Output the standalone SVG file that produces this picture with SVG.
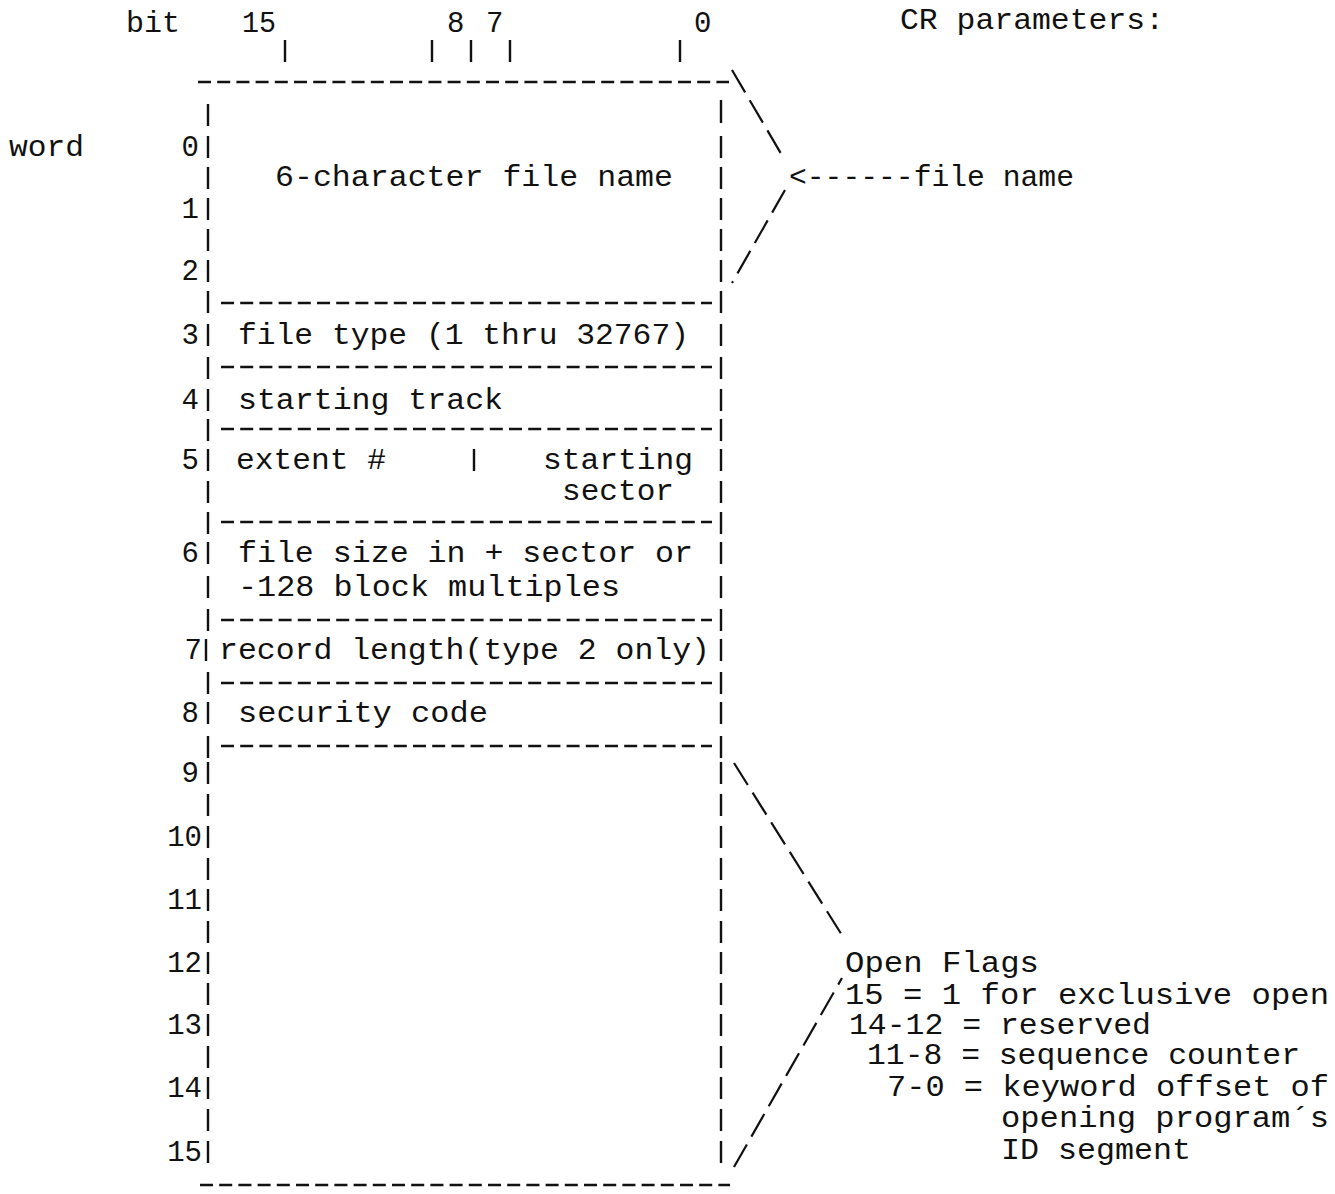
<svg xmlns="http://www.w3.org/2000/svg" width="1335" height="1194" viewBox="0 0 1335 1194">
<style>
text{font-family:"Liberation Mono","DejaVu Sans Mono",monospace;font-size:29px;fill:#111;}
.num{text-anchor:end;}
.bar{stroke:#111;stroke-width:2.4;fill:none;}
.hd{stroke:#111;stroke-width:2.4;fill:none;stroke-dasharray:13 6.2;}
.br{stroke:#111;stroke-width:2.2;fill:none;stroke-dasharray:26 9;}
</style>
<rect width="1335" height="1194" fill="#fff"/>
<g id="header">
<text x="126" y="32" textLength="54" lengthAdjust="spacingAndGlyphs">bit</text>
<text x="242" y="32" textLength="34" lengthAdjust="spacingAndGlyphs">15</text>
<text x="447" y="32">8</text>
<text x="486" y="32">7</text>
<text x="694" y="32">0</text>
<text x="900" y="29" textLength="264" lengthAdjust="spacingAndGlyphs">CR parameters:</text>
<text x="9" y="156" textLength="75" lengthAdjust="spacingAndGlyphs">word</text>
<path class="bar" d="M285 40V62M432 40V62M471 40V62M510 40V62M680 40V62"/>
</g>
<g id="word-numbers">
<text class="num" x="199" y="156">0</text>
<text class="num" x="199" y="218">1</text>
<text class="num" x="199" y="280">2</text>
<text class="num" x="199" y="344">3</text>
<text class="num" x="199" y="409">4</text>
<text class="num" x="199" y="469">5</text>
<text class="num" x="199" y="562">6</text>
<text class="num" x="202" y="659">7</text>
<text class="num" x="199" y="722">8</text>
<text class="num" x="199" y="782">9</text>
<text class="num" x="202" y="846">10</text>
<text class="num" x="202" y="909">11</text>
<text class="num" x="202" y="972">12</text>
<text class="num" x="202" y="1034">13</text>
<text class="num" x="202" y="1097">14</text>
<text class="num" x="202" y="1161">15</text>
</g>
<g id="record-box">
<line class="hd" x1="198" y1="82" x2="729" y2="82"/>
<path id="left-edge" class="bar" d="M208 104V126M208 136V158M208 167V189M208 198V220M208 229V251M208 260V282M208 291V313M208 324V346M208 357V379M208 389V411M208 419V441M208 449V471M208 481V503M208 512V534M208 542V564M208 576V598M208 609V631M206 639V661M208 672V694M208 702V724M208 736V758M208 762V784M208 794V816M208 826V848M208 858V880M208 889V911M208 921V943M208 952V974M208 983V1005M208 1014V1036M208 1046V1068M208 1077V1099M208 1109V1131M208 1141V1163"/>
<path id="right-edge" class="bar" d="M721 100V123M721 136V158M721 167V189M721 198V220M721 229V251M721 260V282M721 291V313M721 324V346M721 357V379M721 389V411M721 419V441M721 449V471M721 481V503M721 512V534M721 542V564M721 576V598M721 609V631M721 639V661M721 672V694M721 702V724M721 736V758M721 762V784M721 794V816M721 826V848M721 858V880M721 889V911M721 921V943M721 952V974M721 983V1005M721 1014V1036M721 1046V1068M721 1077V1099M721 1109V1131M721 1141V1163"/>
<line class="hd" x1="221" y1="303" x2="712" y2="303"/>
<line class="hd" x1="221" y1="367" x2="712" y2="367"/>
<line class="hd" x1="221" y1="429" x2="712" y2="429"/>
<line class="hd" x1="221" y1="522" x2="712" y2="522"/>
<line class="hd" x1="221" y1="620" x2="712" y2="620"/>
<line class="hd" x1="221" y1="683" x2="712" y2="683"/>
<line class="hd" x1="221" y1="746" x2="712" y2="746"/>
<line class="hd" x1="200" y1="1185" x2="730" y2="1185"/>
<line class="bar" x1="474" y1="449" x2="474" y2="471"/>
</g>
<g id="field-file-name"><text x="275" y="186" textLength="398" lengthAdjust="spacingAndGlyphs">6-character file name</text></g>
<g id="field-file-type"><text x="238" y="344" textLength="451" lengthAdjust="spacingAndGlyphs">file type (1 thru 32767)</text></g>
<g id="field-starting-track"><text x="238" y="409" textLength="265" lengthAdjust="spacingAndGlyphs">starting track</text></g>
<g id="field-extent">
<text x="236" y="469" textLength="150" lengthAdjust="spacingAndGlyphs">extent #</text>
<text x="543" y="469" textLength="150" lengthAdjust="spacingAndGlyphs">starting</text>
<text x="562" y="500" textLength="112" lengthAdjust="spacingAndGlyphs">sector</text>
</g>
<g id="field-file-size">
<text x="238" y="562" textLength="455" lengthAdjust="spacingAndGlyphs">file size in + sector or</text>
<text x="238" y="596" textLength="382" lengthAdjust="spacingAndGlyphs">-128 block multiples</text>
</g>
<g id="field-record-length"><text x="219" y="659" textLength="491" lengthAdjust="spacingAndGlyphs">record length(type 2 only)</text></g>
<g id="field-security"><text x="238" y="722" textLength="250" lengthAdjust="spacingAndGlyphs">security code</text></g>
<g id="note-file-name"><text x="789" y="186" textLength="285" lengthAdjust="spacingAndGlyphs">&lt;------file name</text></g>
<g id="note-open-flags">
<text x="845" y="972" textLength="194" lengthAdjust="spacingAndGlyphs">Open Flags</text>
<text x="845" y="1004" textLength="484" lengthAdjust="spacingAndGlyphs">15 = 1 for exclusive open</text>
<text x="849" y="1034" textLength="302" lengthAdjust="spacingAndGlyphs">14-12 = reserved</text>
<text x="867" y="1064" textLength="433" lengthAdjust="spacingAndGlyphs">11-8 = sequence counter</text>
<text x="887" y="1096" textLength="442" lengthAdjust="spacingAndGlyphs">7-0 = keyword offset of</text>
<text x="1001" y="1127" textLength="328" lengthAdjust="spacingAndGlyphs">opening program´s</text>
<text x="1001" y="1159" textLength="190" lengthAdjust="spacingAndGlyphs">ID segment</text>
</g>
<g id="connectors">
<line class="br" x1="732" y1="70" x2="783" y2="157"/>
<line class="br" x1="785" y1="190" x2="732" y2="283"/>
<line class="br" x1="734" y1="763" x2="845" y2="940"/>
<line class="br" x1="734" y1="1167" x2="842" y2="978"/>
</g>
</svg>
